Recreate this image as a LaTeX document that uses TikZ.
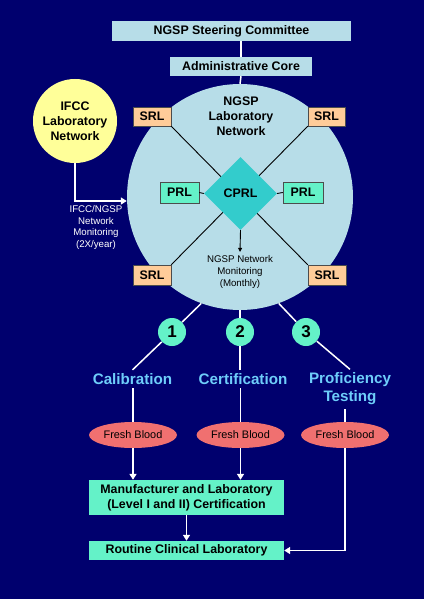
\documentclass[tikz,border=0pt]{standalone}
\usepackage{fontspec}
\setmainfont{Liberation Sans}
\usetikzlibrary{shapes.geometric,arrows.meta}

\definecolor{bgnavy}{RGB}{0,0,110}
\definecolor{paleblue}{RGB}{183,221,232}
\definecolor{tealdia}{RGB}{51,204,204}
\definecolor{mint}{RGB}{100,242,200}
\definecolor{peach}{RGB}{255,204,153}
\definecolor{paleyellow}{RGB}{255,255,153}
\definecolor{salmon}{RGB}{240,112,112}
\definecolor{skytext}{RGB}{110,205,250}

\begin{document}
\begin{tikzpicture}[x=1pt,y=1pt,yscale=-1,xscale=1,
  boldtxt/.style={font=\fontsize{12.4}{15}\selectfont\bfseries,align=center},
  smalltxt/.style={font=\fontsize{9.7}{12}\selectfont,align=center},
  bigtxt/.style={font=\fontsize{15.2}{18}\selectfont\bfseries,align=center,text=skytext},
  topbox/.style={boldtxt,fill=paleblue,inner sep=0pt},
  labbox/.style={boldtxt,draw=black!70,line width=0.5pt,inner sep=0pt,minimum height=20pt},
  numdot/.style={circle,fill=mint,inner sep=0pt,minimum size=28pt,font=\fontsize{17}{17}\selectfont\bfseries},
  blood/.style={ellipse,fill=salmon,inner sep=0pt,minimum width=88pt,minimum height=26pt,font=\fontsize{10.9}{12}\selectfont},
  wline/.style={draw=white,line width=1.5pt},
  warrow/.style={wline,-{Triangle[length=6pt,width=7pt]}}]

% Background
\fill [bgnavy] (0,0) rectangle (424,599);

% Top boxes
\node [topbox,minimum width=239pt,minimum height=20pt] (steer) at (231.5,31) {NGSP Steering Committee};
\node [topbox,minimum width=142pt,minimum height=19pt] (admin) at (241,66.5) {Administrative Core};

% Big circle
\node [circle,fill=paleblue,inner sep=0pt,minimum size=226pt] (ngsp) at (240,197) {};
\node [boldtxt] (ngsplab) at (241,116) {NGSP\\Laboratory\\Network};

%Straight Lines
\draw [wline] (admin.north) -- (admin.north |- steer.south);
\draw [wline] (admin.south) -- (ngsp.north);

% IFCC circle
\node [circle,fill=paleyellow,inner sep=0pt,minimum size=84pt,boldtxt] (ifcc) at (75,121) {IFCC\\Laboratory\\Network};
\draw [warrow] (ifcc.south) |- ([yshift=4pt]ngsp.west);
% Text Node
\node [smalltxt,text=white,font=\fontsize{9.7}{11.7}\selectfont] (ifccmon) at (96,227.5) {IFCC/NGSP\\Network\\Monitoring\\(2X/year)};

% SRL boxes
\node [labbox,fill=peach,minimum width=38pt,minimum height=19pt] (srlA) at (152,116.5) {SRL};
\node [labbox,fill=peach,minimum width=37pt,minimum height=19pt] (srlB) at (326.5,116.5) {SRL};
\node [labbox,fill=peach,minimum width=38pt] (srlC) at (152,275) {SRL};
\node [labbox,fill=peach,minimum width=38pt] (srlD) at (327,275) {SRL};
\draw [line width=0.9pt] (srlA.south east) -- (srlD.north west);
\draw [line width=0.9pt] (srlB.south west) -- (srlC.north east);

% CPRL and PRL
\node [labbox,fill=mint,minimum width=39pt,minimum height=21pt] (prlA) at (179.5,192.5) {PRL};
\node [labbox,fill=mint,minimum width=40pt,minimum height=21pt] (prlB) at (303,192.5) {PRL};
\node [diamond,fill=tealdia,inner sep=0pt,minimum width=73pt,minimum height=73pt,boldtxt] (cprl) at (240.5,193.5) {CPRL};
\draw [line width=0.9pt] (prlA.east) -- (cprl.west);
\draw [line width=0.9pt] (prlB.west) -- (cprl.east);

% Monthly monitoring
\node [smalltxt] (ngspmon) at (240,272) {NGSP Network\\Monitoring\\(Monthly)};
\draw [line width=0.9pt,-{Triangle[length=4pt,width=4pt]}] (cprl.south) -- (ngspmon.north);

% Numbered branches
\node [numdot] (n1) at (172,332) {1};
\node [numdot] (n2) at (240,332) {2};
\node [numdot] (n3) at (306,332) {3};
\node [bigtxt] (calib) at (132.5,379) {Calibration};
\node [bigtxt] (cert) at (243,379) {Certification};
\node [bigtxt] (prof) at (350,389) {Proficiency\\Testing};
\draw [wline] (ngsp.250) -- (n1);
\draw [wline] (n1) -- (calib.north);
\draw [wline] (ngsp.south) -- (n2);
\draw [wline] (n2) -- (n2 |- cert.north);
\draw [wline] (ngsp.290) -- (n3);
\draw [wline] (n3) -- (prof.north);

% Fresh blood
\node [blood] (fbA) at (133,435) {Fresh Blood};
\node [blood] (fbB) at (240.5,435) {Fresh Blood};
\node [blood] (fbC) at (345,435) {Fresh Blood};
\draw [wline] (fbA.north) -- (fbA.north |- calib.south);
\draw [wline] (fbB.north) -- (fbB.north |- cert.south);
\draw [wline] (fbC.north) -- (fbC.north |- prof.south);

% Bottom boxes
\node [topbox,fill=mint,minimum width=195pt,minimum height=35pt] (manu) at (186.5,497.5) {Manufacturer and Laboratory\\(Level I and II) Certification};
\node [topbox,fill=mint,minimum width=195pt,minimum height=19pt] (routine) at (186.5,550.5) {Routine Clinical Laboratory};
\draw [warrow] (fbA.south) -- (fbA.south |- manu.north);
\draw [warrow] (fbB.south) -- (fbB.south |- manu.north);
\draw [warrow] (manu.south) -- (routine.north);
\draw [warrow] (fbC.south) |- (routine.east);

\end{tikzpicture}
\end{document}
